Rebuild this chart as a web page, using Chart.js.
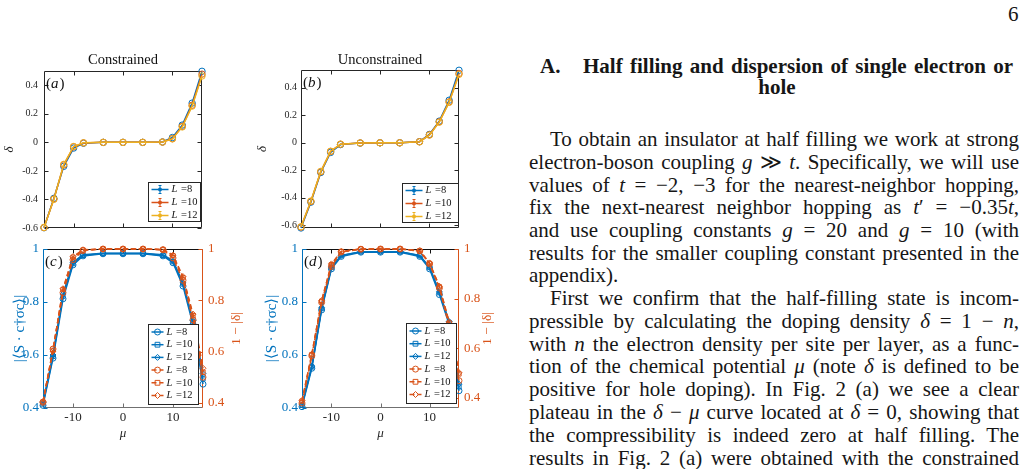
<!DOCTYPE html>
<html>
<head>
<meta charset="utf-8">
<script src="https://cdn.jsdelivr.net/npm/chart.js@4.4.1/dist/chart.umd.min.js"></script>
<style>
html, body { margin: 0; padding: 0; background: #fff; }
body { width: 1027px; height: 469px; position: relative; overflow: hidden; font-family: 'Liberation Serif', 'Times New Roman', serif; color: #161616; }
canvas { position: absolute; }
.ln { position: absolute; left: 529px; width: 490px; height: 23px; line-height: 23px; font-size: 21px; text-align: justify; text-align-last: justify; }
.ind { left: 550px; width: 469px; }
.last { text-align-last: left; }
.hd { position: absolute; font-size: 21px; font-weight: bold; line-height: 23px; }
</style>
</head>
<body>
<canvas id="panelA"></canvas>
<canvas id="panelB"></canvas>
<canvas id="panelC"></canvas>
<canvas id="panelD"></canvas>

<div class="hd" style="left:1008px;top:3px;font-weight:normal;">6</div>
<div class="hd" style="left:540px;top:55px;">A.</div>
<div class="hd" style="left:583px;top:55px;width:430px;text-align:justify;text-align-last:justify;">Half filling and dispersion of single electron or</div>
<div class="hd" style="left:737px;top:76px;width:80px;text-align:center;">hole</div>

<div class="ln ind" style="top:128px">To obtain an insulator at half filling we work at strong</div>
<div class="ln" style="top:151px">electron-boson coupling <i>g</i> ≫ <i>t</i>. Specifically, we will use</div>
<div class="ln" style="top:174px">values of <i>t</i> = −2, −3 for the nearest-neighbor hopping,</div>
<div class="ln" style="top:196px">fix the next-nearest neighbor hopping as <i>t</i>′ = −0.35<i>t</i>,</div>
<div class="ln" style="top:219px">and use coupling constants <i>g</i> = 20 and <i>g</i> = 10 (with</div>
<div class="ln" style="top:242px">results for the smaller coupling constant presented in the</div>
<div class="ln last" style="top:264px">appendix).</div>
<div class="ln ind" style="top:287px">First we confirm that the half-filling state is incom-</div>
<div class="ln" style="top:310px">pressible by calculating the doping density <i>δ</i> = 1 − <i>n</i>,</div>
<div class="ln" style="top:333px">with <i>n</i> the electron density per site per layer, as a func-</div>
<div class="ln" style="top:355px">tion of the chemical potential <i>μ</i> (note <i>δ</i> is defined to be</div>
<div class="ln" style="top:378px">positive for hole doping). In Fig. 2 (a) we see a clear</div>
<div class="ln" style="top:401px">plateau in the <i>δ</i> − <i>μ</i> curve located at <i>δ</i> = 0, showing that</div>
<div class="ln" style="top:424px">the compressibility is indeed zero at half filling. The</div>
<div class="ln" style="top:447px">results in Fig. 2 (a) were obtained with the constrained</div>

<script>
// chemical potential grid shared by all four panels
const mu = [-16, -14, -12, -10, -8, -4, 0, 4, 8, 10, 12, 14, 16];
const muTicks = [-10, 0, 10];
const deltaTicks = [-0.6, -0.4, -0.2, 0, 0.2, 0.4];
const corrTicks = [0.4, 0.6, 0.8, 1];
const fillTicks = [0.4, 0.6, 0.8, 1];
const sizeLabels = ['L =8', 'L =10', 'L =12'];

// (a) constrained doping delta
const conL8 = [-0.598, -0.392, -0.168, -0.04, -0.006, 0, 0, 0, 0.003, 0.034, 0.121, 0.275, 0.498];
const conL10 = [-0.597, -0.397, -0.158, -0.031, -0.004, 0, 0, 0, 0.002, 0.026, 0.112, 0.26, 0.478];
const conL12 = [-0.596, -0.399, -0.154, -0.029, -0.003, 0, 0, 0, 0.002, 0.024, 0.108, 0.254, 0.465];

// (b) unconstrained doping delta
const uncL8 = [-0.62, -0.432, -0.216, -0.07, -0.013, -0.002, 0, 0, 0.008, 0.061, 0.158, 0.31, 0.528];
const uncL10 = [-0.613, -0.427, -0.211, -0.063, -0.01, -0.001, 0, 0, 0.008, 0.058, 0.153, 0.298, 0.505];
const uncL12 = [-0.611, -0.424, -0.208, -0.061, -0.01, -0.001, 0, 0, 0.007, 0.056, 0.15, 0.294, 0.498];

// (c) constrained: spin correlation (left) and 1-|delta| (right)
const corrConL8 = [0.41, 0.588, 0.812, 0.94, 0.974, 0.982, 0.982, 0.982, 0.974, 0.948, 0.86, 0.715, 0.49];
const corrConL10 = [0.415, 0.595, 0.822, 0.945, 0.976, 0.983, 0.983, 0.983, 0.976, 0.952, 0.868, 0.725, 0.51];
const corrConL12 = [0.42, 0.6, 0.83, 0.95, 0.978, 0.984, 0.984, 0.984, 0.978, 0.956, 0.872, 0.73, 0.53];
const fillConL8 = [0.402, 0.61, 0.83, 0.958, 0.994, 1, 1, 1, 0.997, 0.965, 0.878, 0.724, 0.5];
const fillConL10 = [0.404, 0.605, 0.842, 0.968, 0.996, 1, 1, 1, 0.998, 0.974, 0.888, 0.74, 0.52];
const fillConL12 = [0.405, 0.602, 0.845, 0.97, 0.997, 1, 1, 1, 0.998, 0.976, 0.892, 0.746, 0.535];

// (d) unconstrained
const corrUncL8 = [0.405, 0.55, 0.77, 0.925, 0.972, 0.988, 0.988, 0.988, 0.972, 0.925, 0.828, 0.715, 0.465];
const corrUncL10 = [0.41, 0.555, 0.775, 0.93, 0.975, 0.99, 0.99, 0.99, 0.975, 0.93, 0.835, 0.722, 0.48];
const corrUncL12 = [0.412, 0.558, 0.778, 0.932, 0.976, 0.99, 0.99, 0.99, 0.976, 0.932, 0.838, 0.726, 0.49];
const fillUncL8 = [0.38, 0.57, 0.785, 0.93, 0.988, 0.999, 1, 1, 0.992, 0.94, 0.843, 0.69, 0.47];
const fillUncL10 = [0.388, 0.575, 0.79, 0.937, 0.99, 1, 1, 1, 0.992, 0.942, 0.848, 0.702, 0.497];
const fillUncL12 = [0.39, 0.577, 0.792, 0.94, 0.99, 1, 1, 1, 0.993, 0.944, 0.85, 0.706, 0.502];

const BLUE = '#0072BD', ORANGE = '#D95319', YELLOW = '#EDB120', INK = '#262626';
const FONT = "'Liberation Serif', 'Times New Roman', serif";

Chart.defaults.font.family = FONT;
Chart.defaults.color = INK;

function seg(ctx, x1, y1, x2, y2, color) {
    ctx.strokeStyle = color;
    ctx.beginPath();
    ctx.moveTo(x1, y1);
    ctx.lineTo(x2, y2);
    ctx.stroke();
}

function marker(ctx, style, x, y, r, color) {
    ctx.strokeStyle = color;
    ctx.beginPath();
    if (style === 'rect') {
        ctx.rect(x - r * 0.8, y - r * 0.8, r * 1.6, r * 1.6);
    } else if (style === 'rectRot') {
        ctx.moveTo(x, y - r); ctx.lineTo(x + r, y); ctx.lineTo(x, y + r); ctx.lineTo(x - r, y); ctx.closePath();
    } else {
        ctx.arc(x, y, r, 0, Math.PI * 2);
    }
    ctx.stroke();
}

// box, inward ticks, panel letter, legend and right-hand title, drawn like a MATLAB axes
const framePlugin = {
    id: 'frame',
    beforeDatasetsDraw(chart, args, o) {
        if (!o || !o.colors) return;
        const { ctx, chartArea: a, scales } = chart;
        const L = Math.round(a.left) + 0.5, R = Math.round(a.right) - 0.5;
        const T = Math.round(a.top) + 0.5, B = Math.round(a.bottom) - 0.5;
        const c = o.colors, tk = 4;
        ctx.save();
        ctx.lineWidth = 1;
        seg(ctx, L, T, R, T, c.top);
        seg(ctx, L, B, R, B, c.bottom);
        seg(ctx, L, T, L, B, c.left);
        seg(ctx, R, T, R, B, c.right);
        scales.x.ticks.forEach(t => {
            const p = Math.round(scales.x.getPixelForValue(t.value)) + 0.5;
            seg(ctx, p, B, p, B - tk, c.bottom);
            seg(ctx, p, T, p, T + tk, c.top);
        });
        scales.y.ticks.forEach(t => {
            const p = Math.round(scales.y.getPixelForValue(t.value)) + 0.5;
            seg(ctx, L, p, L + tk, p, c.left);
            if (!scales.y1) seg(ctx, R, p, R - tk, p, c.right);
        });
        if (scales.y1) {
            scales.y1.ticks.forEach(t => {
                const p = Math.round(scales.y1.getPixelForValue(t.value)) + 0.5;
                seg(ctx, R, p, R - tk, p, c.right);
            });
        }
        ctx.restore();
    },
    afterDatasetsDraw(chart, args, o) {
        if (!o || !o.colors) return;
        const { ctx, chartArea: a } = chart;
        ctx.save();
        // panel letter (a), (b)...
        ctx.fillStyle = '#111';
        ctx.textBaseline = 'alphabetic';
        ctx.textAlign = 'left';
        let x = a.left + 2;
        const by = a.top + 17;
        ctx.font = `15px ${FONT}`;
        ctx.fillText('(', x, by); x += ctx.measureText('(').width;
        ctx.font = `italic 15px ${FONT}`;
        ctx.fillText(o.letter, x, by); x += ctx.measureText(o.letter).width + 1;
        ctx.font = `15px ${FONT}`;
        ctx.fillText(')', x, by);

        // legend
        const lg = o.legend;
        const bx = Math.round(a.right - lg.right - lg.w) + 0.5;
        const bt = Math.round(a.bottom - lg.bottom - lg.h) + 0.5;
        ctx.fillStyle = '#fff';
        ctx.fillRect(bx, bt, lg.w, lg.h);
        ctx.lineWidth = 1;
        ctx.strokeStyle = INK;
        ctx.strokeRect(bx, bt, lg.w, lg.h);
        chart.data.datasets.forEach((ds, i) => {
            const cy = bt + lg.first + i * lg.row;
            const x0 = bx + 3, x1 = bx + lg.sample, xm = (x0 + x1) / 2;
            ctx.lineWidth = ds.borderWidth;
            ctx.setLineDash(ds.borderDash || []);
            seg(ctx, x0, cy, x1, cy, ds.borderColor);
            ctx.setLineDash([]);
            ctx.lineWidth = 1;
            if (lg.errorbar) {
                seg(ctx, xm, cy - 4, xm, cy + 4, ds.borderColor);
                seg(ctx, xm - 1.5, cy - 4, xm + 1.5, cy - 4, ds.borderColor);
                seg(ctx, xm - 1.5, cy + 4, xm + 1.5, cy + 4, ds.borderColor);
                ctx.fillStyle = ds.borderColor;
                ctx.beginPath(); ctx.arc(xm, cy, 2, 0, Math.PI * 2); ctx.fill();
            } else {
                marker(ctx, ds.pointStyle, xm, cy, 3, ds.borderColor);
            }
            const tx = x1 + 3;
            ctx.fillStyle = '#111';
            ctx.textBaseline = 'middle';
            ctx.font = `italic ${lg.size}px ${FONT}`;
            ctx.fillText(ds.label[0], tx, cy);
            const w = ctx.measureText(ds.label[0]).width;
            ctx.font = `${lg.size}px ${FONT}`;
            ctx.fillText(ds.label.slice(1), tx + w + 1, cy);
        });

        // right axis title, read bottom to top
        if (o.rightTitle) {
            const rt = o.rightTitle;
            ctx.translate(rt.x, (a.top + a.bottom) / 2);
            ctx.rotate(-Math.PI / 2);
            ctx.fillStyle = rt.color;
            ctx.textAlign = 'center';
            ctx.textBaseline = 'middle';
            ctx.font = `${rt.size}px ${FONT}`;
            ctx.fillText(rt.text, 0, 0);
        }
        ctx.restore();
    }
};
Chart.register(framePlugin);

function tickList(list) {
    return s => { s.ticks = list.map(v => ({ value: v })); };
}

const plainLabel = v => String(v);

function series(label, values, color, extra) {
    return Object.assign({
        label: label,
        data: mu.map((m, i) => ({ x: m, y: values[i] })),
        borderColor: color,
        pointBorderColor: color,
        backgroundColor: 'rgba(0,0,0,0)',
        pointBackgroundColor: 'rgba(255,255,255,0)',
        borderWidth: 1.5,
        pointRadius: 3,
        pointBorderWidth: 1,
        pointStyle: 'circle',
        tension: 0,
        clip: false
    }, extra || {});
}

function place(id, box) {
    const cv = document.getElementById(id);
    cv.width = box.w;
    cv.height = box.h;
    cv.style.left = box.x + 'px';
    cv.style.top = box.y + 'px';
    return cv;
}

function xScale(bottomH, showLabels) {
    return {
        type: 'linear', min: -16, max: 16,
        afterBuildTicks: tickList(muTicks),
        afterFit: s => { s.height = bottomH; },
        grid: { display: false, drawTicks: false },
        border: { display: false },
        ticks: { display: showLabels, padding: 2, color: INK, font: { size: 13 }, callback: plainLabel },
        title: { display: showLabels, text: 'μ', color: INK, font: { size: 13, style: 'italic' }, padding: { top: 0, bottom: 28 } }
    };
}

// top row: doping delta versus mu
function deltaPanel(id, box, area, title, letter, values, yMin, yMax, opt) {
    const cv = place(id, box);
    const leftW = area.x0 - box.x, rightW = box.x + box.w - area.x1;
    const topH = area.y0 - box.y, bottomH = box.y + box.h - area.y1;
    const colors = [BLUE, ORANGE, YELLOW];
    return new Chart(cv, {
        type: 'line',
        data: {
            datasets: values.map((v, i) => series(sizeLabels[i], v, colors[i], { order: 2 - i, pointRadius: 3.2 }))
        },
        options: {
            responsive: false,
            animation: false,
            events: [],
            layout: { padding: { left: 0, right: rightW, top: 0, bottom: 0 } },
            scales: {
                x: xScale(bottomH, false),
                y: {
                    type: 'linear', min: yMin, max: yMax,
                    afterBuildTicks: tickList(deltaTicks),
                    afterFit: s => { s.width = leftW; },
                    grid: { display: false, drawTicks: false },
                    border: { display: false },
                    ticks: { padding: opt.tickPad, color: INK, font: { size: 10 }, callback: plainLabel },
                    title: { display: true, text: 'δ', color: INK, font: { size: 13, style: 'italic' }, padding: { top: opt.titlePad, bottom: 0 } }
                }
            },
            plugins: {
                legend: { display: false },
                tooltip: { enabled: false },
                title: {
                    display: true, text: title, fullSize: false, color: '#111',
                    font: { size: 14.5, weight: 'normal' },
                    padding: { top: 6, bottom: topH - 6 - 17.4 }
                },
                frame: {
                    colors: { top: INK, bottom: INK, left: INK, right: INK },
                    letter: letter,
                    legend: Object.assign({ errorbar: true, first: 7, row: 13, sample: 20, size: 10.5 }, opt.legend)
                }
            }
        }
    });
}

// bottom row: spin correlation (left axis) and 1-|delta| (right axis)
function corrPanel(id, box, area, letter, corr, fill, rightMin, opt) {
    const cv = place(id, box);
    const leftW = area.x0 - box.x, rightW = box.x + box.w - area.x1;
    const topH = area.y0 - box.y, bottomH = box.y + box.h - area.y1;
    const marks = ['circle', 'rect', 'rectRot'];
    const blue = corr.map((v, i) => series(sizeLabels[i], v, BLUE, { pointStyle: marks[i], yAxisID: 'y', order: 1 }));
    const orange = fill.map((v, i) => series(sizeLabels[i], v, ORANGE, { pointStyle: marks[i], yAxisID: 'y1', order: 0, borderDash: [5, 3] }));
    return new Chart(cv, {
        type: 'line',
        data: { datasets: blue.concat(orange) },
        options: {
            responsive: false,
            animation: false,
            events: [],
            layout: { padding: { left: 0, right: 0, top: topH, bottom: 0 } },
            scales: {
                x: xScale(bottomH, true),
                y: {
                    type: 'linear', position: 'left', min: 0.4, max: 1,
                    afterBuildTicks: tickList(corrTicks),
                    afterFit: s => { s.width = leftW; },
                    grid: { display: false, drawTicks: false },
                    border: { display: false },
                    ticks: { padding: 4, color: BLUE, font: { size: 13 }, callback: plainLabel },
                    title: { display: true, text: '|⟨S · c†σc⟩|', color: BLUE, font: { size: 15 }, padding: { top: opt.leftTitlePad, bottom: 0 } }
                },
                y1: {
                    type: 'linear', position: 'right', min: rightMin, max: 1,
                    afterBuildTicks: tickList(fillTicks),
                    afterFit: s => { s.width = rightW; },
                    grid: { display: false, drawTicks: false },
                    border: { display: false },
                    ticks: { padding: 5, color: ORANGE, font: { size: 13 }, callback: plainLabel }
                }
            },
            plugins: {
                legend: { display: false },
                tooltip: { enabled: false },
                frame: {
                    colors: { top: '#111', bottom: '#707070', left: BLUE, right: ORANGE },
                    letter: letter,
                    legend: Object.assign({ errorbar: false, first: 7.5, row: 12.7, sample: 15, size: 10.5 }, opt.legend),
                    rightTitle: { text: '1 − |δ|', x: opt.rightTitleX, size: 13.5, color: ORANGE }
                }
            }
        }
    });
}

deltaPanel('panelA', { x: 0, y: 45, w: 245, h: 195 }, { x0: 44, y0: 71, x1: 202, y1: 229 },
    'Constrained', 'a', [conL8, conL10, conL12], -0.6, 0.5,
    { tickPad: 6, titlePad: 2, legend: { w: 52, h: 39, right: 2, bottom: 7 } });

deltaPanel('panelB', { x: 250, y: 45, w: 240, h: 195 }, { x0: 301, y0: 70, x1: 459, y1: 228 },
    'Unconstrained', 'b', [uncL8, uncL10, uncL12], -0.62, 0.53,
    { tickPad: 4, titlePad: 5, legend: { w: 56, h: 39, right: 1, bottom: 6 } });

corrPanel('panelC', { x: 0, y: 235, w: 250, h: 234 }, { x0: 43, y0: 249, x1: 203, y1: 408 },
    'c', [corrConL8, corrConL10, corrConL12], [fillConL8, fillConL10, fillConL12], 0.38,
    { leftTitlePad: 11, rightTitleX: 236, legend: { w: 50, h: 80, right: 5, bottom: 4 } });

corrPanel('panelD', { x: 250, y: 235, w: 245, h: 234 }, { x0: 302, y0: 249, x1: 459, y1: 408 },
    'd', [corrUncL8, corrUncL10, corrUncL12], [fillUncL8, fillUncL10, fillUncL12], 0.36,
    { leftTitlePad: 13, rightTitleX: 237, legend: { w: 50, h: 80, right: 3, bottom: 5 } });
</script>
</body>
</html>
